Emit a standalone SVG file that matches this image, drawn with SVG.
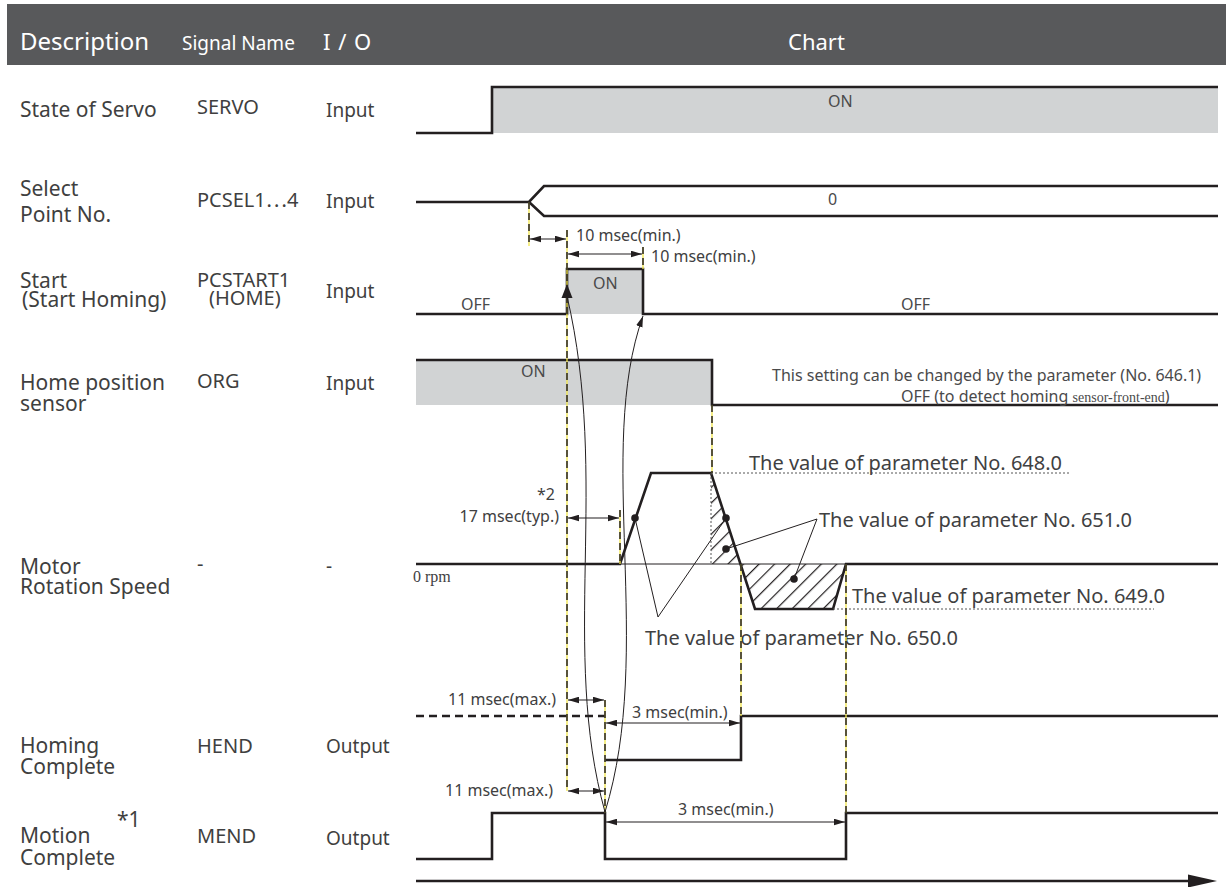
<svg xmlns="http://www.w3.org/2000/svg" width="1226" height="887" viewBox="0 0 1226 887">
<style>
.hd{font-family:"Noto Sans","Liberation Sans",sans-serif;fill:#ffffff}
.lb{font-family:"Noto Sans","Noto Sans CJK JP",sans-serif;fill:#3f3f40;font-size:21px}
.sg{font-size:20px}
.io{font-size:19px}
.ct{font-family:"Noto Sans","Liberation Sans",sans-serif;fill:#4a4a4b;font-size:16px}
.dm{font-family:"Noto Sans","Liberation Sans",sans-serif;fill:#404041;font-size:16px}
.pv{font-family:"Noto Sans","Liberation Sans",sans-serif;fill:#404041;font-size:20px}
.wave{fill:none;stroke:#231f20;stroke-width:2.6;stroke-linejoin:miter}
.gfill{fill:#d1d3d4}
.thin{fill:none;stroke:#231f20;stroke-width:1}
.dot{fill:none;stroke:#555;stroke-width:1;stroke-dasharray:2 2}
.gy{fill:none;stroke:#f2e64a;stroke-width:1.3}
.gk{fill:none;stroke:#231f20;stroke-width:1.5;stroke-dasharray:7 4}
.dim{fill:none;stroke:#231f20;stroke-width:1.2;marker-start:url(#ah);marker-end:url(#ah)}
</style>
<defs>
<marker id="ah" viewBox="0 0 10 6" refX="10" refY="3" markerWidth="11" markerHeight="7" markerUnits="userSpaceOnUse" orient="auto-start-reverse">
<path d="M0,0 L10,3 L0,6 Z" fill="#231f20"/>
</marker>
<pattern id="hatch" patternUnits="userSpaceOnUse" width="11" height="11" patternTransform="rotate(45)">
<line x1="0" y1="0" x2="0" y2="11" stroke="#231f20" stroke-width="2.4"/>
</pattern>
</defs>

<g id="header">
<rect x="7" y="4" width="1219" height="61" fill="#58595b"/>
<text class="hd" x="20" y="50" font-size="24">Description</text>
<text class="hd" x="182" y="50" font-size="19">Signal Name</text>
<text class="hd" x="323" y="50" font-size="22" word-spacing="2">I / O</text>
<text class="hd" x="788" y="50" font-size="22">Chart</text>
</g>

<g id="row-servo">
<text class="lb" x="20" y="117">State of Servo</text>
<text class="lb sg" x="197" y="114">SERVO</text>
<text class="lb io" x="326" y="117">Input</text>
<rect class="gfill" x="492" y="87" width="726" height="46"/>
<path class="wave" d="M416,133 H492 V87 H1218"/>
<text class="ct" x="828" y="107">ON</text>
</g>

<g id="row-pcsel">
<text class="lb" x="20" y="196">Select</text>
<text class="lb" x="20" y="222">Point No.</text>
<text class="lb sg" x="197" y="207">PCSEL1<tspan font-family="Noto Sans CJK JP, DejaVu Sans, sans-serif">⋯</tspan>4</text>
<text class="lb io" x="326" y="208">Input</text>
<path class="wave" d="M416,202 H529 L544,186 H1218 M529,202 L544,216 H1218"/>
<text class="ct" x="828" y="205" font-size="14">0</text>
</g>

<g id="row-start">
<text class="lb" x="20" y="288">Start</text>
<text class="lb" x="22" y="307">(Start Homing)</text>
<text class="lb sg" x="197" y="287">PCSTART1</text>
<text class="lb sg" x="209" y="305">(HOME)</text>
<text class="lb io" x="326" y="298">Input</text>
<rect class="gfill" x="567" y="269" width="76" height="45"/>
<path class="wave" d="M416,314 H567 V269 H643 V314 H1218"/>
<text class="ct" x="593" y="289">ON</text>
<text class="ct" x="461" y="310">OFF</text>
<text class="ct" x="901" y="310">OFF</text>
</g>

<g id="row-org">
<text class="lb" x="20" y="390">Home position</text>
<text class="lb" x="20" y="411">sensor</text>
<text class="lb sg" x="197" y="388">ORG</text>
<text class="lb io" x="326" y="390">Input</text>
<rect class="gfill" x="416" y="360" width="296" height="45"/>
<path class="wave" d="M416,360 H712 V405 H1218"/>
<text class="ct" x="521" y="377">ON</text>
<text class="ct" x="772" y="381" font-size="15">This setting can be changed by the parameter  (No. 646.1)</text>
<text class="ct" x="901" y="402" font-size="15">OFF  (to detect homing <tspan font-family="Liberation Serif, serif" font-size="14">sensor-front-end</tspan>)</text>
</g>

<g id="row-speed">
<text class="lb" x="20" y="574">Motor</text>
<text class="lb" x="20" y="594">Rotation Speed</text>
<text class="lb sg" x="197" y="571">-</text>
<text class="lb io" x="326" y="573">-</text>
<polygon points="711,473 740.5,564 711,564" fill="url(#hatch)"/>
<polygon points="740.5,564 755,609 833,609 846,564" fill="url(#hatch)"/>
<line class="thin" x1="620" y1="564" x2="846" y2="564"/>
<path class="wave" d="M416,564 H620 L651,473 H711 L755,609 H833 L846,564 H1218"/>
<line class="dot" x1="711" y1="473" x2="711" y2="564"/>
<line class="dot" x1="711" y1="473" x2="1070" y2="473"/>
<line class="dot" x1="833" y1="609" x2="1154" y2="609"/>
<text x="413" y="582" font-family="Liberation Serif, serif" font-size="16" fill="#404041">0 rpm</text>
<text class="pv" x="749" y="470">The value of parameter No. 648.0</text>
<text class="pv" x="819" y="527">The value of parameter No. 651.0</text>
<text class="pv" x="852" y="603">The value of parameter No. 649.0</text>
<text class="pv" x="645" y="645">The value of parameter No. 650.0</text>
<g fill="#231f20">
<circle cx="635" cy="518" r="3.8"/>
<circle cx="726" cy="518" r="3.8"/>
<circle cx="726" cy="549" r="3.8"/>
<circle cx="794" cy="579" r="3.8"/>
</g>
</g>

<g id="row-hend">
<text class="lb" x="20" y="753">Homing</text>
<text class="lb" x="20" y="774">Complete</text>
<text class="lb sg" x="197" y="753">HEND</text>
<text class="lb io" x="326" y="753">Output</text>
<path class="wave" d="M416,716 H605" stroke-dasharray="8 5"/>
<path class="wave" d="M605,760 H741 V716 H1218"/>
</g>

<g id="row-mend">
<text class="lb" x="20" y="843">Motion</text>
<text class="lb" x="20" y="865">Complete</text>
<text class="lb" x="117" y="827" font-size="16">*1</text>
<text class="lb sg" x="197" y="843">MEND</text>
<text class="lb io" x="326" y="845">Output</text>
<path class="wave" d="M416,859 H492 V813 H605 V859 H846 V813 H1218"/>
</g>

<g id="connectors">
<g id="guides">
<path class="gy" d="M529,202 V246 M567,230 V791 M643,247 V269 M712,405 V473 M620,510 V564 M741,564 V716 M846,564 V813 M605,700 V813"/>
<path class="gk" d="M529,202 V246 M567,230 V791 M643,247 V269 M712,405 V473 M620,510 V564 M741,564 V716 M846,564 V813 M605,700 V813"/>
</g>
<line class="dim" x1="530" y1="239" x2="566" y2="239"/>
<line class="dim" x1="568" y1="254" x2="642" y2="254"/>
<line class="dim" x1="568" y1="518" x2="619" y2="518"/>
<line class="dim" x1="568" y1="700" x2="604" y2="700"/>
<line class="dim" x1="606" y1="723" x2="740" y2="723"/>
<line class="dim" x1="568" y1="791" x2="604" y2="791"/>
<line class="dim" x1="606" y1="822" x2="845" y2="822"/>
<text class="dm" x="576" y="241">10 msec(min.)</text>
<text class="dm" x="651" y="262">10 msec(min.)</text>
<text class="dm" x="559" y="522" text-anchor="end">17 msec(typ.)</text>
<text class="dm" x="537" y="500">*2</text>
<text class="dm" x="448" y="705">11 msec(max.)</text>
<text class="dm" x="632" y="718">3 msec(min.)</text>
<text class="dm" x="445" y="796">11 msec(max.)</text>
<text class="dm" x="678" y="815">3 msec(min.)</text>
<path class="thin" d="M567,296 C610,480 560,650 605,812"/>
<polygon points="567,284 561.5,298 572.5,298" fill="#231f20"/>
<path class="thin" d="M643,316 C595,450 655,650 605,812" marker-start="url(#ah)"/>
<path class="thin" d="M658,617 L635,518 M658,617 L726,518 M817,519 L726,549 M817,519 L794,579"/>
<path class="wave" d="M416,881 H1192"/>
<polygon points="1188,874.5 1217,881 1188,887.5" fill="#231f20"/>
</g>
</svg>
